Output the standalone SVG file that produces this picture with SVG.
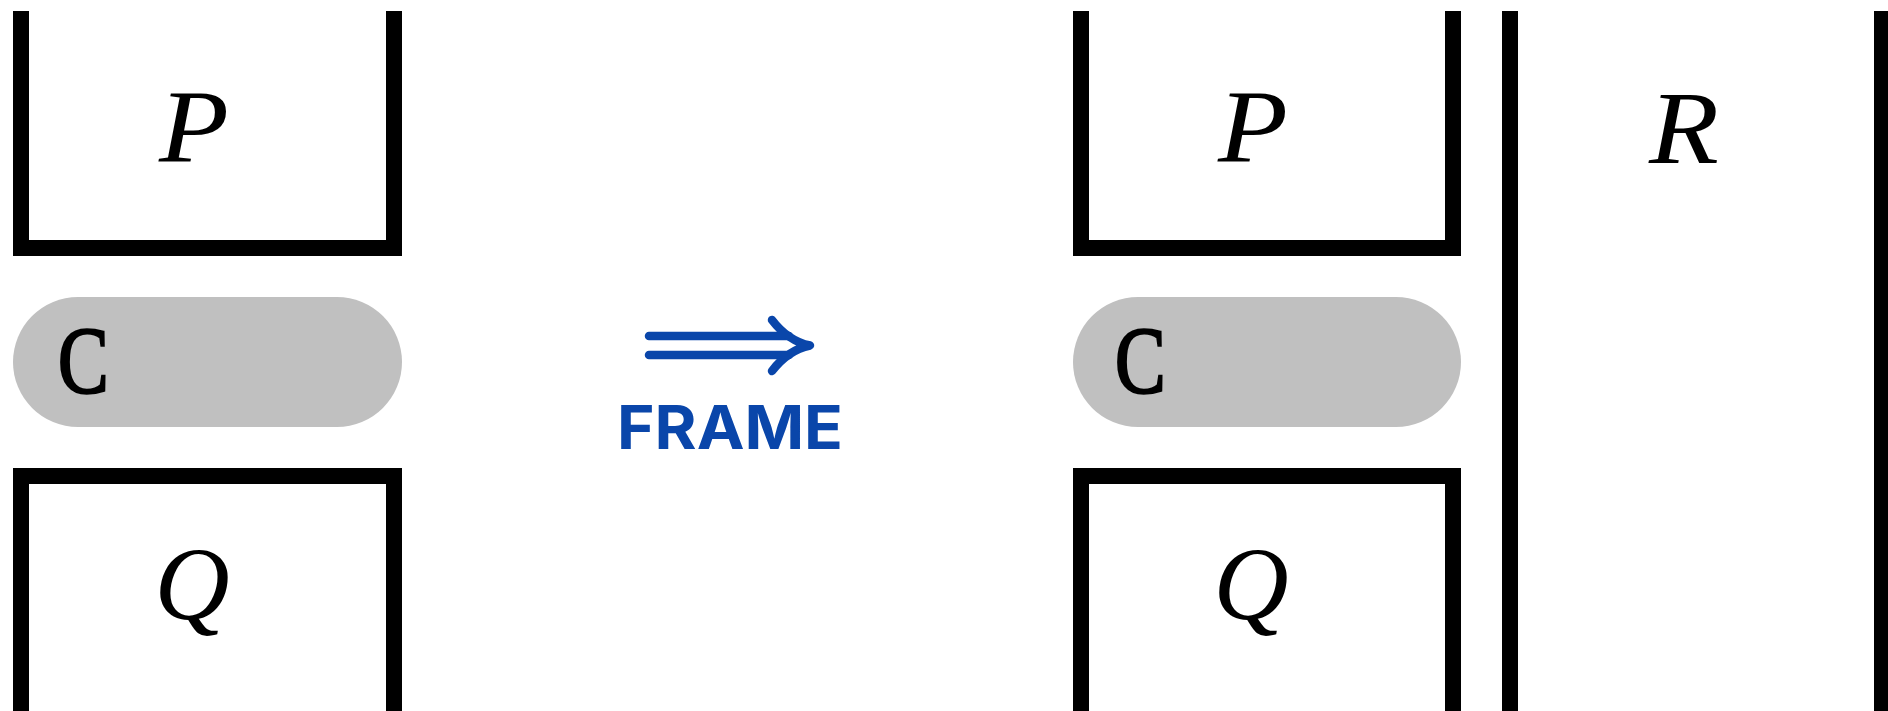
<svg xmlns="http://www.w3.org/2000/svg" width="1888" height="711" viewBox="0 0 1888 711">
  <style>
    .wall { fill: #000; }
    .pill { fill: #c0c0c0; }
    .math { font-family: "Liberation Serif", "DejaVu Serif", serif; font-style: italic; font-size: 104px; fill: #000; text-anchor: middle; }
    .tt { font-family: "Liberation Serif", "DejaVu Serif", serif; font-size: 95px; fill: #000; stroke: #000; stroke-width: 2.5; }
    .blue { stroke: #0a46aa; stroke-width: 8.5; stroke-linecap: round; stroke-linejoin: round; fill: none; }
    .label { font-family: Inter, "Open Sans", "Liberation Sans", sans-serif; font-weight: bold; font-size: 60px; fill: #0a46aa; }
  </style>

  <!-- left configuration -->
  <g id="left-P">
    <rect class="wall" x="13" y="11" width="16" height="245"/>
    <rect class="wall" x="386" y="11" width="16" height="245"/>
    <rect class="wall" x="13" y="240" width="389" height="16"/>
    <text class="math" x="194" y="162" transform="translate(194 0) scale(1.1 1) translate(-194 0)">P</text>
  </g>
  <g id="left-C">
    <path class="pill" d="M78,297 H337 A65,65 0 0 1 337,427 H78 A65,65 0 0 1 78,297 Z"/>
    <text class="tt" x="0" y="393" transform="translate(58 0) scale(0.8 1)">C</text>
  </g>
  <g id="left-Q">
    <rect class="wall" x="13" y="468" width="16" height="243"/>
    <rect class="wall" x="386" y="468" width="16" height="243"/>
    <rect class="wall" x="13" y="468" width="389" height="16"/>
    <text class="math" x="192" y="619">Q</text>
  </g>

  <!-- transformation arrow -->
  <g id="connectors">
    <line class="blue" x1="649" y1="336" x2="789" y2="336"/>
    <line class="blue" x1="649" y1="355" x2="789" y2="355"/>
    <path class="blue" d="M772,320 Q788,341 810,345.5 Q788,350 772,371"/>
  </g>
  <g id="frame-label">
    <text class="label" x="617" y="449" textLength="226" lengthAdjust="spacingAndGlyphs">FRAME</text>
  </g>

  <!-- right configuration -->
  <g id="right-P">
    <rect class="wall" x="1073" y="11" width="16" height="245"/>
    <rect class="wall" x="1445" y="11" width="16" height="245"/>
    <rect class="wall" x="1073" y="240" width="388" height="16"/>
    <text class="math" x="1253" y="162" transform="translate(1253 0) scale(1.1 1) translate(-1253 0)">P</text>
  </g>
  <g id="right-C">
    <path class="pill" d="M1138,297 H1396 A65,65 0 0 1 1396,427 H1138 A65,65 0 0 1 1138,297 Z"/>
    <text class="tt" x="0" y="393" transform="translate(1115 0) scale(0.8 1)">C</text>
  </g>
  <g id="right-Q">
    <rect class="wall" x="1073" y="468" width="16" height="243"/>
    <rect class="wall" x="1445" y="468" width="16" height="243"/>
    <rect class="wall" x="1073" y="468" width="388" height="16"/>
    <text class="math" x="1251" y="619">Q</text>
  </g>
  <g id="right-R">
    <rect class="wall" x="1502" y="11" width="16" height="700"/>
    <rect class="wall" x="1874" y="11" width="14" height="700"/>
    <text class="math" x="1684" y="163" transform="translate(1684 0) scale(1.1 1) translate(-1684 0)">R</text>
  </g>
</svg>
